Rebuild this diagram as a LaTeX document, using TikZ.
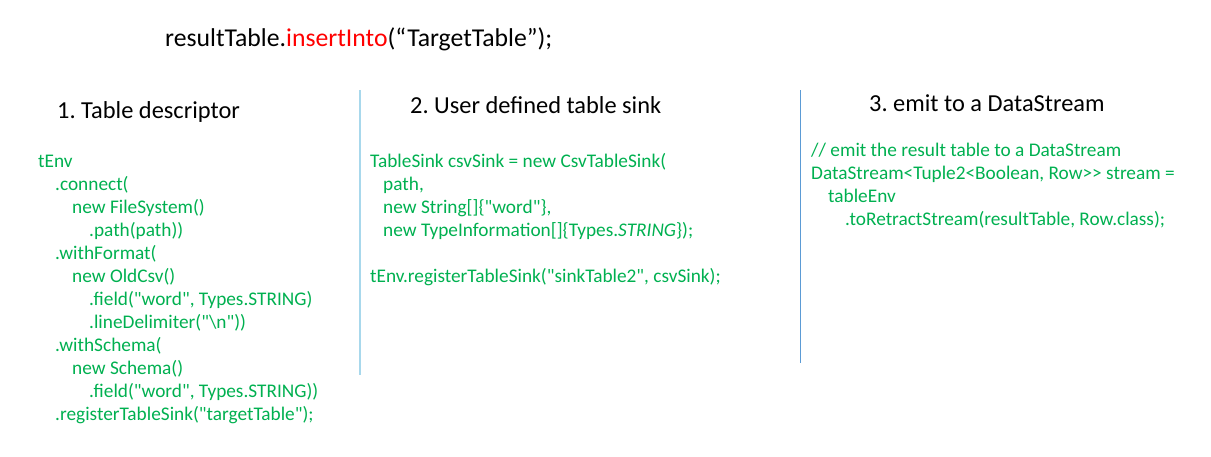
\documentclass[tikz,border=0pt]{standalone}
\usepackage{fontspec}
\setmainfont{Carlito}[Ligatures=TeXOff]
\usetikzlibrary{positioning}
\definecolor{codegreen}{RGB}{0,176,80}
\definecolor{sepblue}{RGB}{168,216,236}
\definecolor{sepdark}{RGB}{91,155,213}
\newcommand{\codeindent}{\hspace*{17pt}}
\frenchspacing
\begin{document}
\begin{tikzpicture}[x=1pt,y=-1pt,
    head/.style={anchor=base west,inner sep=0pt,font=\fontsize{24.4}{28}\selectfont},
    code/.style={anchor=base west,inner sep=0pt,align=left,text=codegreen,font=\fontsize{19.3}{23}\selectfont}]
    \useasboundingbox (0,0) rectangle (1211,456);
    %% title
    \node[anchor=base west,inner sep=0pt,font=\fontsize{25.7}{30}\selectfont] (title) at (165,46)
        {resultTable.\textcolor{red}{insertInto}(“TargetTable”);};
    %% column headings
    \node[head] (headdesc) at (57,118) {1. Table descriptor};
    \node[head] (headsink) at (410,113) {2. User defined table sink};
    \node[head] (heademit) at (869,111) {3. emit to a DataStream};
    %% separators
    \draw[sepblue,line width=2pt] (360,90) -- (360,375);
    \draw[sepdark,line width=1.5pt] (800.5,90) -- (800.5,363);
    %% table descriptor code (anchored at last line)
    \node[code] (codedesc) at (38,420) {tEnv\\
        \codeindent.connect(\\
        \codeindent\codeindent new FileSystem()\\
        \codeindent\codeindent\codeindent.path(path))\\
        \codeindent.withFormat(\\
        \codeindent\codeindent new OldCsv()\\
        \codeindent\codeindent\codeindent.field("word", Types.STRING)\\
        \codeindent\codeindent\codeindent.lineDelimiter("\textbackslash n"))\\
        \codeindent.withSchema(\\
        \codeindent\codeindent new Schema()\\
        \codeindent\codeindent\codeindent.field("word", Types.STRING))\\
        \codeindent.registerTableSink("targetTable");};
    %% table sink code
    \node[code] (codesink) at (370,282) {TableSink csvSink = new CsvTableSink(\\
        \hspace*{13pt}path,\\
        \hspace*{13pt}new String[]\{"word"\},\\
        \hspace*{13pt}new TypeInformation[]\{Types.\textit{STRING}\});\\[23pt]
        tEnv.registerTableSink("sinkTable2", csvSink);};
    %% data stream code
    \node[code] (codeemit) at (811,225) {// emit the result table to a DataStream\\
        DataStream<Tuple2<Boolean, Row>{}> stream =\\
        \codeindent tableEnv\\
        \codeindent\codeindent.toRetractStream(resultTable, Row.class);};
\end{tikzpicture}
\end{document}
